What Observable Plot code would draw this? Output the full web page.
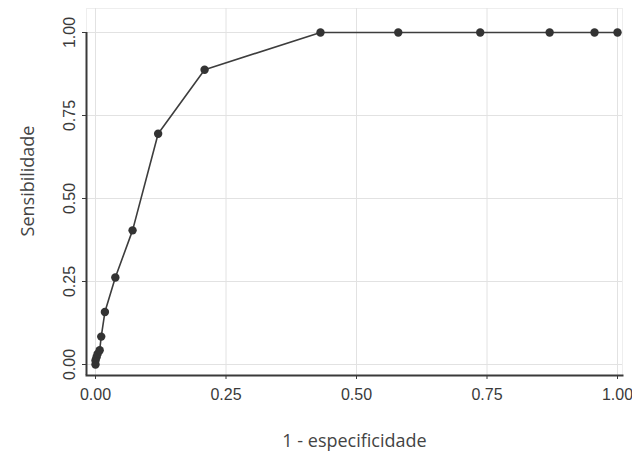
<!DOCTYPE html>
<html>
<head>
<meta charset="utf-8">
<script src="https://cdn.jsdelivr.net/npm/d3@7"></script>
<script src="https://cdn.jsdelivr.net/npm/@observablehq/plot@0.6"></script>
<style>
  html, body { margin: 0; padding: 0; background: #fff; }
</style>
</head>
<body>
<div id="chart"></div>
<script>
const fpr  = [0, 0, 0.002, 0.004, 0.008, 0.011, 0.018, 0.038, 0.071, 0.120, 0.209, 0.431, 0.580, 0.737, 0.870, 0.956, 1.0];
const sens = [0, 0.012, 0.022, 0.032, 0.043, 0.084, 0.158, 0.262, 0.404, 0.695, 0.888, 1, 1, 1, 1, 1, 1];
const xTicks = [0, 0.25, 0.5, 0.75, 1];
const yTicks = [0, 0.25, 0.5, 0.75, 1];
const xTitle = "1 - especificidade";
const yTitle = "Sensibilidade";

const data = fpr.map((x, i) => ({x, y: sens[i]}));
const fmt = d => d.toFixed(2);
const axisColor = "#3a3a3a";

const chart = Plot.plot({
  width: 632,
  height: 452,
  marginLeft: 86,
  marginRight: 10,
  marginTop: 8,
  marginBottom: 77,
  insetLeft: 9,
  insetRight: 5,
  insetTop: 24,
  insetBottom: 11,
  style: {fontFamily: "'Liberation Sans', Arial, sans-serif", color: axisColor, background: "#fff"},
  x: {domain: [0, 1]},
  y: {domain: [0, 1]},
  marks: [
    Plot.frame({stroke: "#eeeeee"}),
    Plot.gridX(xTicks, {stroke: "#e2e2e2", strokeOpacity: 1}),
    Plot.gridY(yTicks, {stroke: "#e2e2e2", strokeOpacity: 1}),
    Plot.frame({anchor: "bottom", stroke: axisColor, strokeWidth: 2}),
    Plot.ruleX([0], {x: d => d, y1: () => 1, y2: () => 0, dx: -9, insetBottom: -11, stroke: axisColor, strokeWidth: 2}),
    Plot.axisX({ticks: xTicks, tickSize: 4, tickPadding: 9, tickFormat: fmt, fontSize: 16, label: null, stroke: axisColor}),
    Plot.axisY({ticks: yTicks, tickSize: 4, tickFormat: () => "", label: null, stroke: axisColor}),
    Plot.text(yTicks, {y: d => d, text: fmt, frameAnchor: "left", dx: -17, rotate: -90, textAnchor: "middle", lineAnchor: "middle", fontSize: 16, fill: axisColor}),
    Plot.line(data, {x: "x", y: "y", stroke: "#3d3d3d", strokeWidth: 1.6}),
    Plot.dot(data, {x: "x", y: "y", r: 4.2, fill: "#333", stroke: "none"}),
    Plot.text([yTitle], {text: d => d, frameAnchor: "left", dx: -58, dy: -11, rotate: -90, textAnchor: "middle", lineAnchor: "middle", fontSize: 18, fontFamily: "'Open Sans', sans-serif", fill: "#444"}),
    Plot.text([xTitle], {text: d => d, frameAnchor: "bottom", dy: 66, textAnchor: "middle", lineAnchor: "middle", fontSize: 18, fontFamily: "'Open Sans', sans-serif", fill: "#444"})
  ]
});
document.getElementById("chart").appendChild(chart);
</script>
</body>
</html>
